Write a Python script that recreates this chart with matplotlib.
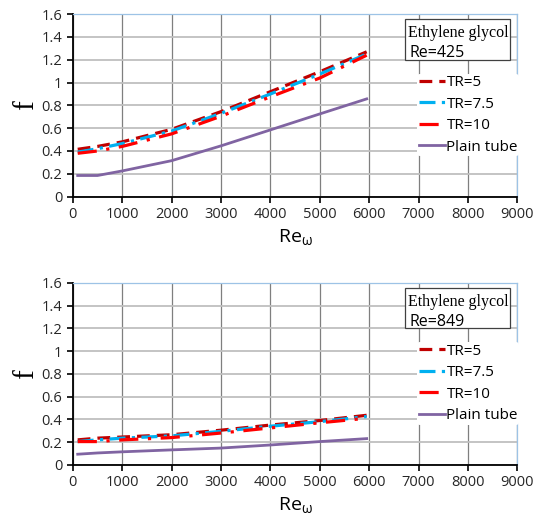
import matplotlib.pyplot as plt
from matplotlib.patches import Rectangle

# Re_omega values (shared by every series)
re_w = [100, 500, 1000, 2000, 3000, 4000, 5000, 5950]

# top panel, Re=425
top_tr5 = [0.415, 0.44, 0.48, 0.59, 0.745, 0.92, 1.095, 1.27]
top_tr75 = [0.39, 0.42, 0.465, 0.575, 0.73, 0.9, 1.075, 1.25]
top_tr10 = [0.38, 0.40, 0.44, 0.55, 0.705, 0.875, 1.04, 1.24]
top_plain = [0.185, 0.185, 0.225, 0.315, 0.445, 0.585, 0.725, 0.857]

# bottom panel, Re=849
bot_tr5 = [0.22, 0.235, 0.245, 0.265, 0.305, 0.35, 0.39, 0.436]
bot_tr75 = [0.205, 0.22, 0.235, 0.255, 0.295, 0.34, 0.38, 0.425]
bot_tr10 = [0.205, 0.205, 0.22, 0.24, 0.28, 0.325, 0.37, 0.41]
bot_plain = [0.094, 0.105, 0.115, 0.132, 0.148, 0.175, 0.205, 0.231]

panels = [
    ('Re=425', top_tr5, top_tr75, top_tr10, top_plain),
    ('Re=849', bot_tr5, bot_tr75, bot_tr10, bot_plain),
]

sans = 'Open Sans'
serif = 'Liberation Serif'
plt.rcParams['mathtext.fontset'] = 'custom'
plt.rcParams['mathtext.rm'] = sans

fig = plt.figure(figsize=(5.35, 5.16), dpi=100)
positions = [[0.136, 0.619, 0.831, 0.3535], [0.136, 0.099, 0.831, 0.353]]

for pos, (re_label, tr5, tr75, tr10, plain) in zip(positions, panels):
    ax = fig.add_axes(pos)
    ax.plot(re_w, tr5, color='#C00000', lw=2.3, dashes=(4, 2.2), label='TR=5')
    ax.plot(re_w, tr75, color='#00B0F0', lw=2.3, dashes=(5, 2, 1, 2), label='TR=7.5')
    ax.plot(re_w, tr10, color='#FF0000', lw=2.3, dashes=(6, 3, 1, 3), label='TR=10')
    ax.plot(re_w, plain, color='#8064A2', lw=2, label='Plain tube')

    ax.set_xlim(0, 9000)
    ax.set_ylim(0, 1.6)
    ax.set_xticks(range(0, 9001, 1000))
    ax.set_yticks([0, 0.2, 0.4, 0.6, 0.8, 1, 1.2, 1.4, 1.6])
    ax.set_yticklabels(['0', '0.2', '0.4', '0.6', '0.8', '1', '1.2', '1.4', '1.6'])
    ax.xaxis.grid(True, color='#7f7f7f', lw=0.9)
    ax.yaxis.grid(True, color='#bfbfbf', lw=1.3)
    ax.set_axisbelow(True)
    for s in ['left', 'bottom']:
        ax.spines[s].set_color('black')
        ax.spines[s].set_linewidth(1.3)
    for s in ['top', 'right']:
        ax.spines[s].set_color('#9DC3E6')
        ax.spines[s].set_linewidth(0.9)
    ax.tick_params(direction='out', length=4, width=1.2, labelsize=10.5,
                   colors='black', labelcolor='#262626')
    for lab in ax.get_xticklabels() + ax.get_yticklabels():
        lab.set_fontfamily(sans)

    ax.set_ylabel('f', fontfamily=serif, fontsize=21, labelpad=2)
    ax.set_xlabel('Re$_{\\mathrm{\u03c9}}$', fontfamily=sans, fontsize=14, labelpad=4)

    leg = ax.legend(loc='upper left', bbox_to_anchor=(0.758, 0.715), frameon=True,
                    prop={'family': sans, 'size': 11}, handlelength=1.7,
                    handletextpad=0.1, labelspacing=0.42, borderpad=0.1)
    leg.get_frame().set_edgecolor('none')
    leg.get_frame().set_facecolor('white')
    leg.get_frame().set_alpha(1)

    ax.add_patch(Rectangle((0.748, 0.749), 0.236, 0.224, transform=ax.transAxes,
                           facecolor='white', edgecolor='#404040', lw=0.9,
                           clip_on=False, zorder=5))
    ax.text(0.753, 0.94, 'Ethylene glycol', transform=ax.transAxes,
            fontfamily=serif, fontsize=11.5, va='top', zorder=6)
    ax.text(0.757, 0.83, re_label, transform=ax.transAxes,
            fontfamily=sans, fontsize=11.5, va='top', zorder=6)

fig.savefig('out.png', dpi=100)
